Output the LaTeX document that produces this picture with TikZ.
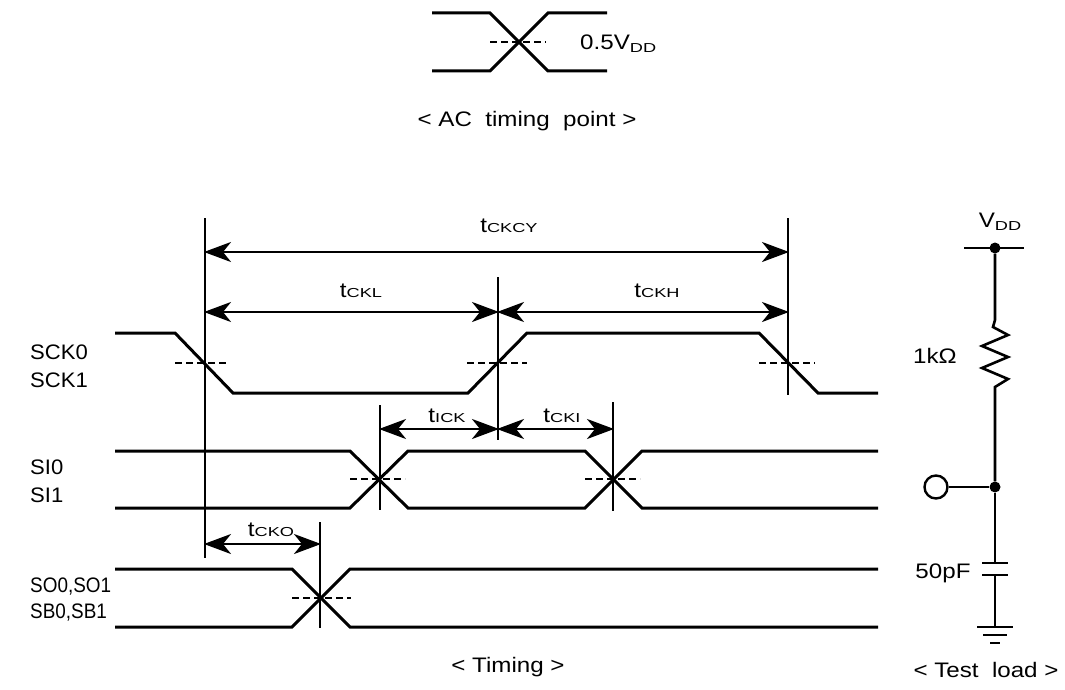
\documentclass[tikz,border=0pt]{standalone}
\usepackage{fontspec}
\usepackage{graphicx}
\setmainfont{Liberation Sans}
\usetikzlibrary{arrows.meta}
\newcommand\wtxt[1]{\scalebox{1.15}[1]{#1}}
\newcommand\ltxt[1]{\scalebox{1.05}[1]{#1}}
\newcommand\ntxt[1]{\scalebox{0.9}[1]{#1}}
\newcommand\smsub[1]{\scalebox{1.4}[1]{\fontsize{13}{13}\selectfont #1}}
\newcommand\lowsub[1]{\raisebox{-3pt}{\smsub{#1}}}
\tikzset{
  wave/.style={line width=3pt, line join=miter},
  vmark/.style={line width=2.6pt},
  dimarrow/.style={{Stealth[length=27pt,width=20pt,inset=8pt]}-{Stealth[length=27pt,width=20pt,inset=8pt]}, line width=2.4pt, shorten <=-1pt, shorten >=-1pt},
  refline/.style={line width=2.4pt, dash pattern=on 7pt off 4pt},
  lbl/.style={font=\fontsize{21}{24}\selectfont, inner sep=0pt, anchor=base},
  sig/.style={font=\fontsize{21}{24}\selectfont, inner sep=0pt, anchor=base west},
  wire/.style={line width=2.6pt},
  dot/.style={circle, fill=black, inner sep=0pt, minimum size=11pt}
}
\begin{document}
\begin{tikzpicture}[x=1pt,y=-1pt]
\useasboundingbox (0,0) rectangle (1065,690);
% ---------- AC timing point ----------
\draw[wave] (432,13) -- (490,13) -- (548,71) -- (607,71);
\draw[wave] (432,71) -- (490,71) -- (548,13) -- (607,13);
\draw[refline] (490,42) -- (546,42);
\node[lbl, anchor=base west] (vhalf) at (580,50) {\wtxt{0.5V}\lowsub{DD}};
\node[lbl] (acpt) at (527,127) {\wtxt{<\ AC\ \ timing\ \ point\ >}};
% ---------- vertical timing marks ----------
\coordinate (v1t) at (205,218); \coordinate (v1b) at (205,558);
\coordinate (v2t) at (498,277); \coordinate (v2b) at (498,440);
\coordinate (v3t) at (788,218); \coordinate (v3b) at (788,395);
\coordinate (v4t) at (380,405); \coordinate (v4b) at (380,510);
\coordinate (v5t) at (613,402); \coordinate (v5b) at (613,511);
\coordinate (v6t) at (320,522); \coordinate (v6b) at (320,628);
\draw[vmark] (v1t) -- (v1b);
\draw[vmark] (v2t) -- (v2b);
\draw[vmark] (v3t) -- (v3b);
\draw[vmark] (v4t) -- (v4b);
\draw[vmark] (v5t) -- (v5b);
\draw[vmark] (v6t) -- (v6b);
% ---------- dimension arrows ----------
\coordinate (a1l) at (205,252); \coordinate (a1r) at (788,252);
\coordinate (a2l) at (205,312); \coordinate (a2m) at (498,312); \coordinate (a2r) at (788,312);
\coordinate (a3l) at (380,429); \coordinate (a3m) at (498,429); \coordinate (a3r) at (613,429);
\coordinate (a4l) at (205,544); \coordinate (a4r) at (320,544);
\draw[dimarrow] (a1l) -- (a1r);
\draw[dimarrow] (a2l) -- (a2m);
\draw[dimarrow] (a2m) -- (a2r);
\draw[dimarrow] (a3l) -- (a3m);
\draw[dimarrow] (a3m) -- (a3r);
\draw[dimarrow] (a4l) -- (a4r);
\node[lbl] (tckcy) at (509,232) {\wtxt{t}\smsub{CKCY}};
\node[lbl] (tckl) at (361,297) {\wtxt{t}\smsub{CKL}};
\node[lbl] (tckh) at (657,297) {\wtxt{t}\smsub{CKH}};
\node[lbl] (tick) at (447,422) {\wtxt{t}\smsub{ICK}};
\node[lbl] (tcki) at (562,422) {\wtxt{t}\smsub{CKI}};
\node[lbl] (tcko) at (271,536) {\wtxt{t}\smsub{CKO}};
% ---------- SCK ----------
\draw[wave] (115,333) -- (175,333) -- (233,393) -- (468,393) -- (527,333) -- (759,333) -- (818,393) -- (878,393);
\draw[refline] (175,363) -- (229,363);
\draw[refline] (467,363) -- (527,363);
\draw[refline] (759,363) -- (815,363);
\node[sig] (sck0) at (30,359) {\ltxt{SCK0}};
\node[sig] (sck1) at (30,387) {\ltxt{SCK1}};
% ---------- SI ----------
\draw[wave] (115,451) -- (350,451) -- (408,508) -- (585,508) -- (642,451) -- (878,451);
\draw[wave] (115,508) -- (350,508) -- (408,451) -- (585,451) -- (642,508) -- (878,508);
\draw[refline] (350,479) -- (405,479);
\draw[refline] (585,479) -- (640,479);
\node[sig] (si0) at (30,474) {\ltxt{SI0}};
\node[sig] (si1) at (30,502) {\ltxt{SI1}};
% ---------- SO ----------
\draw[wave] (115,569) -- (292,569) -- (350,627) -- (878,627);
\draw[wave] (115,627) -- (292,627) -- (350,569) -- (878,569);
\draw[refline] (292,598) -- (351,598);
\node[sig] (so) at (30,592) {\ntxt{SO0,SO1}};
\node[sig] (sb) at (30,618) {\ntxt{SB0,SB1}};
\node[lbl] (timing) at (508,672) {\wtxt{<\ Timing\ >}};
% ---------- Test load ----------
\coordinate (vl) at (964,248); \coordinate (vr) at (1024,248);
\node[dot] (vdd) at (995,248) {};
\node[dot] (junc) at (995,487) {};
\node[circle, draw, line width=2.4pt, minimum size=23pt, inner sep=0pt] (term) at (936,487) {};
\coordinate (rt) at (995,320); \coordinate (rb) at (995,387);
\coordinate (ct) at (995,563); \coordinate (cb) at (995,575);
\coordinate (gnd) at (995,627);
\draw[wire] (vl) -- (vr);
\draw[wire] (vdd) -- (rt) -- (993,327) -- (1008,335) -- (982,346) -- (1008,357) -- (982,368) -- (1008,379) -- (rb) -- (junc);
\draw[wire] (term) -- (junc);
\draw[wire] (junc) -- (ct);
\draw[wire] (982,563) -- (1008,563);
\draw[wire] (982,575) -- (1008,575);
\draw[wire] (cb) -- (gnd);
\draw[wire] (977,627) -- (1013,627);
\draw[wire] (983,635) -- (1007,635);
\draw[wire] (990,643) -- (1000,643);
\node[lbl] (vddl) at (1000,227) {\wtxt{V}\lowsub{DD}};
\node[lbl] (res) at (935,363) {\wtxt{1kΩ}};
\node[lbl] (cap) at (943,578) {\wtxt{50pF}};
\node[lbl] (tload) at (986,677) {\wtxt{<\ Test\ \ load\ >}};
\end{tikzpicture}
\end{document}
